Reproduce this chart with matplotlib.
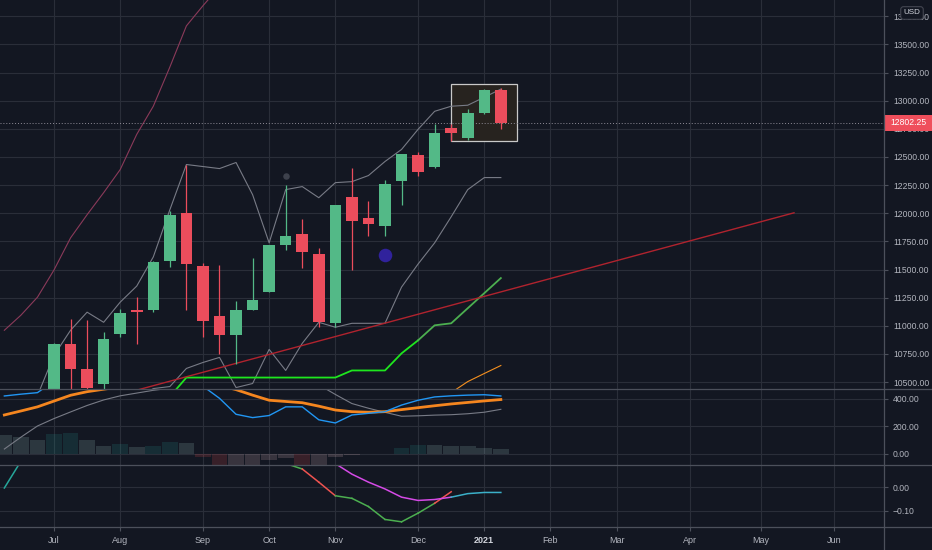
import numpy as np
import pandas as pd
import matplotlib
matplotlib.use('Agg')
import matplotlib.pyplot as plt
import matplotlib.dates as mdates
import matplotlib.transforms as mtransforms
from matplotlib.patches import Rectangle
from matplotlib.lines import Line2D

# colori stile dark
BG = '#131722'
GRID = '#2a2e39'
SEP = '#4c505b'
TXT = '#b2b5be'
UP = '#53b987'
DOWN = '#eb4d5c'

plt.rcParams['font.family'] = ['Liberation Sans', 'DejaVu Sans']

# settimane da 2020-06-15 (k=-3) a 2021-01-11 (k=27)
weeks = pd.date_range('2020-06-15', periods=31, freq='7D')

# candele settimanali (da 2020-07-06)
opens = [10340, 10841, 10618, 10484, 10930, 11138, 11138, 11580, 12002, 11531, 11085, 10915, 11136, 11302,
         11717, 11817, 11636, 11029, 12141, 11957, 11888, 12284, 12522, 12413, 12761, 12671, 12888, 13097]
highs = [10850, 11064, 11049, 10945, 11150, 11257, 11580, 12016, 12433, 11560, 11540, 11219, 11600, 11719,
         12254, 11948, 11689, 12073, 12404, 12105, 12299, 12525, 12540, 12790, 12790, 12924, 13100, 13110]
lows = [10320, 10430, 10400, 10440, 10900, 10841, 11120, 11520, 11138, 10900, 10752, 10662, 11136, 11302,
        11674, 11510, 10989, 10990, 11496, 11799, 11799, 12076, 12330, 12400, 12641, 12650, 12880, 12752]
closes = [10835, 10618, 10448, 10886, 11118, 11120, 11564, 11987, 11546, 11043, 10921, 11136, 11231, 11719,
          11799, 11659, 11034, 12073, 11927, 11904, 12257, 12525, 12368, 12716, 12710, 12888, 13097, 12802.25]
last_price = 12802.25

nan = np.nan
upper_band = [nan, nan, 10379, 10737, 10960, 11121, 11031, 11210, 11353, 11612, 12031, 12433, 12415, 12397,
              12451, 12165, 11737, 12210, 12237, 12138, 12272, 12281, 12335, 12460, 12567, 12746, 12906,
              12951, 12960, 13031, 13103]
lower_band = [nan] * 8 + [10353, 10442, 10460, 10621, 10674, 10719, 10451, 10487, 10790, 10603, 10844, 11031,
                          10987, 11022, 11022, 11022, 11344, 11549, 11737, 11969, 12210, 12317, 12317]
maroon_line = [10960, 11094, 11254, 11496, 11781, 11987, 12183, 12388, 12701, 12951, 13299, 13665, 13844,
               14013] + [nan] * 17
green_line = [nan] * 10 + [10370] + [10540] * 10 + [10603] * 3 + [10755, 10871, 11004, 11022, 11156, 11290, 11424]
orange_line = [nan] * 27 + [10406, 10504, 10576, 10647]

# trendline e disegni
trend_dates = ['2020-08-07', '2021-05-15']
trend_prices = [10411, 12004]
box_dates = ['2020-12-21', '2021-01-18']
box_prices = [12641, 13147]
blue_dot = ('2020-11-23', 11629)
gray_dot = ('2020-10-12', 12335)

# pannello MACD
macd = [419, 432, 443, 527, 574, 547, 521, 552, 548, 563, 609, 617, 490, 402, 286, 262, 277, 340, 340, 246,
        223, 281, 293, 305, 353, 388, 412, 420, 425, 428, 419]
signal = [281, 310, 340, 382, 424, 450, 468, 485, 495, 505, 515, 525, 515, 495, 465, 425, 388, 379, 370, 345,
          317, 305, 301, 305, 320, 334, 348, 361, 372, 383, 393]
slow_line = [34, 120, 201, 255, 303, 350, 390, 420, 440, 460, 475, 500] + [nan] * 7 + \
            [500, 430, 364, 330, 300, 272, 275, 280, 283, 290, 301, 322]
hist = [133, 120, 102, 145, 150, 97, 53, 67, 48, 53, 84, 77, -25, -110, -110, -100, -44, -29, -95, -90, -25,
        -8, -3, 0, 44, 60, 60, 53, 53, 41, 31]

# pannello oscillatore
osc_a = [nan] * 17 + [0.10, 0.077, 0.021, -0.037, -0.048, -0.083, -0.138, -0.148, -0.111, -0.069, -0.020,
                      -0.004, 0.003, -0.018]
osc_a_colors = ['r', 'r', 'r', 'g', 'r', 'r', 'g', 'g', 'g', 'g', 'g', 'g', 'r']  # segmenti da k=14
osc_b = [-0.004, 0.11] + [nan] * 18 + [0.10, 0.055, 0.021, -0.008, -0.043, -0.057, -0.053, -0.043, -0.028,
                                       -0.023, -0.023]

month_dates = ['2020-07-06', '2020-08-03', '2020-09-07', '2020-10-05', '2020-11-02', '2020-12-07',
               '2021-01-04', '2021-02-01', '2021-03-01', '2021-04-01', '2021-05-01', '2021-06-01']
month_labels = ['Jul', 'Aug', 'Sep', 'Oct', 'Nov', 'Dec', '2021', 'Feb', 'Mar', 'Apr', 'May', 'Jun']


def dnum(s):
    return mdates.date2num(pd.Timestamp(s))


W, H = 932, 550
fig = plt.figure(figsize=(W / 100, H / 100), dpi=100, facecolor=BG)
ax_main = fig.add_axes([0, 1 - 388.8 / H, 884 / W, 388.8 / H])
ax_macd = fig.add_axes([0, 1 - 465 / H, 884 / W, 76.2 / H])
ax_osc = fig.add_axes([0, 1 - 526.5 / H, 884 / W, 61.5 / H])

xw = mdates.date2num(weeks)
cx = xw[3:]
x_left = dnum('2020-07-06') - 22.84
x_right = dnum('2020-07-06') + 351.06
mx = [dnum(d) for d in month_dates]

for ax in (ax_main, ax_macd, ax_osc):
    ax.set_facecolor(BG)
    for s in ax.spines.values():
        s.set_visible(False)
    ax.yaxis.tick_right()
    ax.set_xlim(x_left, x_right)
    ax.set_xticks(mx)
    ax.grid(True, color=GRID, lw=0.8)
    ax.set_axisbelow(True)
    ax.tick_params(axis='y', colors=TXT, labelsize=6.2, length=3, pad=3.5, color=SEP)
    ax.tick_params(axis='x', length=0, labelbottom=False)

# --- prezzo ---
ax_main.set_ylim(10440, 13895)
pticks = np.arange(10500, 13751, 250)
ax_main.set_yticks(pticks)
ax_main.set_yticklabels([f'{v:.2f}' for v in pticks])

ax_main.plot(xw, maroon_line, color='#8b3a5a', lw=0.8, zorder=2)
ax_main.plot(xw, upper_band, color='#787b86', lw=0.8, zorder=2)
ax_main.plot(xw, lower_band, color='#787b86', lw=0.8, zorder=2)
gl = np.array(green_line)
ax_main.plot(xw[:26], gl[:26], color='#1ee61e', lw=1.3, zorder=2)
ax_main.plot(xw[25:], gl[25:], color='#4caf50', lw=1.3, zorder=2)
ax_main.plot(xw, orange_line, color='#f5901f', lw=0.8, zorder=2)
ax_main.plot([dnum(d) for d in trend_dates], trend_prices, color='#b0232e', lw=1.0, zorder=2)

ax_main.add_patch(Rectangle((dnum(box_dates[0]), box_prices[0]), dnum(box_dates[1]) - dnum(box_dates[0]),
                            box_prices[1] - box_prices[0], facecolor='#27231f', edgecolor='#c9c9c9',
                            lw=0.9, zorder=1.8))

ccol = [UP if c >= o else DOWN for o, c in zip(opens, closes)]
ax_main.vlines(cx, lows, highs, colors=ccol, lw=0.9, zorder=3)
body = [max(abs(c - o), 15) for o, c in zip(opens, closes)]
ax_main.bar(cx, body, bottom=np.minimum(opens, closes), width=4.9, color=ccol, zorder=4)

ax_main.scatter([dnum(blue_dot[0])], [blue_dot[1]], s=95, color='#30229c', zorder=5, lw=0)
ax_main.scatter([dnum(gray_dot[0])], [gray_dot[1]], s=22, color='#3d414c', zorder=5, lw=0)

ax_main.axhline(last_price, color='#8e8b96', lw=0.7, ls=(0, (1, 2)), zorder=2)

# etichetta ultimo prezzo
tr = mtransforms.blended_transform_factory(ax_main.transAxes, ax_main.transData)
ax_main.add_patch(Rectangle((1.0, last_price - 72), 48 / 884, 144, transform=tr, facecolor='#ef4f5c',
                            edgecolor='none', clip_on=False, zorder=10))
ax_main.text(1.0 + 24 / 884, last_price, f'{last_price:.2f}', transform=tr, color='white', fontsize=6.2,
             ha='center', va='center', zorder=11, clip_on=False)
ax_main.text(912 / 884, 1 - 13 / 388.8, 'USD', transform=ax_main.transAxes, color='#d1d4dc', fontsize=5.8,
             ha='center', va='center', zorder=11,
             bbox=dict(boxstyle='round,pad=0.35', fc=BG, ec='#434651', lw=0.8))

# --- MACD ---
ax_macd.set_ylim(-82, 471)
ax_macd.set_yticks([0, 200, 400])
ax_macd.set_yticklabels(['0.00', '200.00', '400.00'])
hcol = []
for i, h in enumerate(hist):
    prev = hist[i - 1] if i > 0 else h + 1
    if h >= 0:
        hcol.append('#26a69a' if h > prev else '#b2dfdb')
    else:
        hcol.append('#ff5252' if h < prev else '#ffcdd2')
ax_macd.bar(xw, hist, width=6.6, color=hcol, alpha=0.16, zorder=1.5)
ax_macd.plot(xw, slow_line, color='#787b86', lw=0.8, zorder=2)
ax_macd.plot(xw, signal, color='#f5861f', lw=2.0, zorder=3)
ax_macd.plot(xw, macd, color='#2196f3', lw=1.0, zorder=4)

# --- oscillatore ---
ax_osc.set_ylim(-0.168, 0.094)
ax_osc.set_yticks([-0.1, 0.0])
ax_osc.set_yticklabels(['\u22120.10', '0.00'])
cmap = {'r': '#ef5350', 'g': '#4caf50'}
for j, c in enumerate(osc_a_colors):
    i = 14 + j
    ax_osc.plot(xw[i:i + 2], osc_a[i:i + 2], color=cmap[c], lw=1.1, zorder=3)
ax_osc.plot(xw[0:2], osc_b[0:2], color='#26a69a', lw=1.1, zorder=3)
ax_osc.plot(xw[20:28], osc_b[20:28], color='#d54ae6', lw=1.1, zorder=3)
ax_osc.plot(xw[27:], osc_b[27:], color='#3bb0c9', lw=1.1, zorder=3)

ax_osc.tick_params(axis='x', labelbottom=True, colors=TXT, labelsize=6.5, length=3, pad=4, color=SEP)
ax_osc.set_xticklabels(month_labels)
lab = ax_osc.get_xticklabels()[6]
lab.set_fontweight('bold')
lab.set_color('#d1d4dc')

# separatori pannelli e asse destro
for yy in (388.8, 465, 526.5):
    fig.add_artist(Line2D([0, 1], [1 - yy / H] * 2, transform=fig.transFigure, color=SEP, lw=0.9))
fig.add_artist(Line2D([884 / W] * 2, [0, 1], transform=fig.transFigure, color=SEP, lw=0.9))

fig.savefig('out.png', dpi=100, facecolor=BG)
